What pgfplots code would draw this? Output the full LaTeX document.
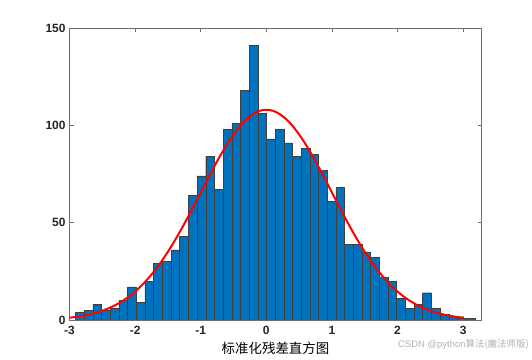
\documentclass[border=0pt]{standalone}
\usepackage{fontspec}
\setmainfont{Liberation Sans}
\newfontfamily\cjk{Noto Sans CJK SC}
\usepackage{pgfplots}
\pgfplotsset{compat=1.18}
\definecolor{barblue}{RGB}{0,114,189}
\definecolor{axgray}{RGB}{110,110,110}
\begin{document}
\begin{tikzpicture}
\path[use as bounding box, fill=white] (0,0) rectangle (532bp,360bp);
\begin{axis}[
  at={(69.5bp,40bp)}, anchor=south west,
  scale only axis, width=412bp, height=292bp,
  xmin=-3, xmax=3.28, ymin=0, ymax=150,
  xtick={-3,-2,-1,0,1,2,3}, ytick={0,50,100,150},
  tick align=inside, major tick length=4bp,
  axis line style={axgray, line width=0.6bp},
  every tick/.style={axgray, line width=0.6bp},
  /pgf/number format/assume math mode=true,
  tick label style={font=\bfseries\fontsize{12}{14}\selectfont, text=black!85},
  xticklabel style={yshift=-2.5bp},
  yticklabel style={xshift=-0.5bp},
  xlabel={\cjk\fontsize{13.5}{15}\selectfont 标准化残差直方图},
  xlabel style={yshift=-1bp},
  clip=true,
]
\addplot[ybar, bar width=0.1323, bar shift=0pt, fill=barblue, draw=black!75, line width=0.45bp] coordinates {
(-2.8419,4) (-2.7096,5) (-2.5773,8) (-2.4450,5) (-2.3127,6) (-2.1804,10)
(-2.0481,17) (-1.9158,9) (-1.7835,20) (-1.6512,29) (-1.5189,30) (-1.3866,36)
(-1.2543,43) (-1.1220,64) (-0.9897,74) (-0.8574,84) (-0.7251,67) (-0.5928,98)
(-0.4605,101) (-0.3282,118) (-0.1959,141) (-0.0636,106) (0.0687,93) (0.2010,98)
(0.3333,91) (0.4656,84) (0.5979,88) (0.7302,85) (0.8625,77) (0.9948,61)
(1.1271,68) (1.2594,39) (1.3917,39) (1.5240,35) (1.6563,32) (1.7886,22)
(1.9209,20) (2.0532,11) (2.1855,6) (2.3178,8) (2.4501,14) (2.5824,6)
(2.7147,3) (2.8470,2) (2.9793,1) (3.1116,1)
};
\addplot[red, line width=2bp, smooth] coordinates {
(-3.0,1.20) (-2.9,1.61) (-2.8,2.14) (-2.7,2.82) (-2.6,3.68) (-2.5,4.75)
(-2.4,6.06) (-2.3,7.67) (-2.2,9.60) (-2.1,11.91) (-2.0,14.62) (-1.9,17.76)
(-1.8,21.37) (-1.7,25.46) (-1.6,30.03) (-1.5,35.06) (-1.4,40.53) (-1.3,46.39)
(-1.2,52.57) (-1.1,58.98) (-1.0,65.51) (-0.9,72.03) (-0.8,78.42) (-0.7,84.53)
(-0.6,90.21) (-0.5,95.31) (-0.4,99.70) (-0.3,103.25) (-0.2,105.86) (-0.1,107.46)
(0.0,108.00) (0.1,107.46) (0.2,105.86) (0.3,103.25) (0.4,99.70) (0.5,95.31)
(0.6,90.21) (0.7,84.53) (0.8,78.42) (0.9,72.03) (1.0,65.51) (1.1,58.98)
(1.2,52.57) (1.3,46.39) (1.4,40.53) (1.5,35.06) (1.6,30.03) (1.7,25.46)
(1.8,21.37) (1.9,17.76) (2.0,14.62) (2.1,11.91) (2.2,9.60) (2.3,7.67)
(2.4,6.06) (2.5,4.75) (2.6,3.68) (2.7,2.82) (2.8,2.14) (2.9,1.61) (3.0,1.20)
};
\end{axis}
\node[anchor=east, text=black!30, inner sep=0pt] at (529bp,16bp) {\fontsize{9.5}{11}\selectfont CSDN @python\cjk 算法(魔法师版)};
\end{tikzpicture}
\end{document}
